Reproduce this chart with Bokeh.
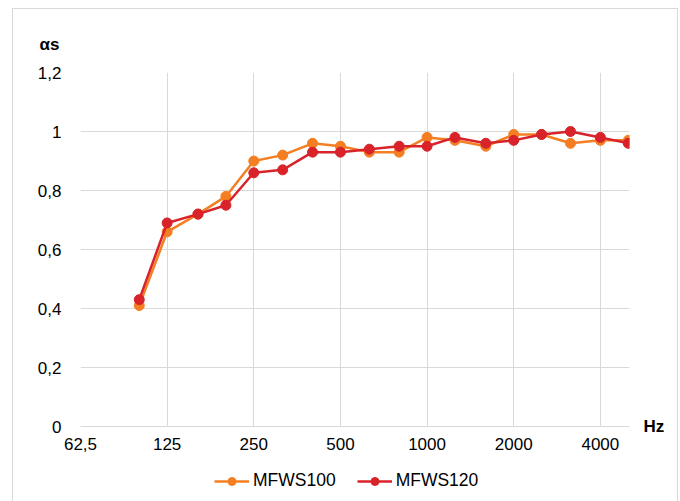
from bokeh.plotting import figure
from bokeh.layouts import column
from bokeh.models import FixedTicker, Legend, LegendItem, Title, Range1d, LinearAxis
from bokeh.embed import file_html
from bokeh.resources import INLINE

freqs = [100, 125, 160, 200, 250, 315, 400, 500, 630, 800, 1000, 1250, 1600, 2000, 2500, 3150, 4000, 5000]
mfws100 = [0.41, 0.66, 0.72, 0.78, 0.90, 0.92, 0.96, 0.95, 0.93, 0.93, 0.98, 0.97, 0.95, 0.99, 0.99, 0.96, 0.97, 0.97]
mfws120 = [0.43, 0.69, 0.72, 0.75, 0.86, 0.87, 0.93, 0.93, 0.94, 0.95, 0.95, 0.98, 0.96, 0.97, 0.99, 1.00, 0.98, 0.96]
x_ticks = [62.5, 125, 250, 500, 1000, 2000, 4000]
x_tick_labels = ["62,5", "125", "250", "500", "1000", "2000", "4000"]
y_ticks = [0, 0.2, 0.4, 0.6, 0.8, 1, 1.2]
y_tick_labels = ["0", "0,2", "0,4", "0,6", "0,8", "1", "1,2"]
y_title = "αs"
x_title = "Hz"
series_names = ["MFWS100", "MFWS120"]

ORANGE = "#F37F22"
RED = "#D8232A"
GRID = "#D9D9D9"
FONT = "Liberation Sans"
FS = "17px"

p = figure(width=664, height=451, x_axis_type="log",
           x_range=Range1d(62.5, 5050), y_range=Range1d(0, 1.2),
           output_backend="svg", toolbar_location=None,
           min_border_left=67, min_border_right=48, min_border_top=63, min_border_bottom=34)
p.outline_line_color = None
p.background_fill_color = "white"
p.border_fill_color = "white"

# axes
p.xaxis.ticker = FixedTicker(ticks=x_ticks)
p.xaxis.major_label_overrides = {t: l for t, l in zip(x_ticks, x_tick_labels)}
p.yaxis.ticker = FixedTicker(ticks=y_ticks)
p.yaxis.major_label_overrides = {t: l for t, l in zip(y_ticks, y_tick_labels)}
for ax in (p.xaxis[0], p.yaxis[0]):
    ax.major_tick_line_color = None
    ax.minor_tick_line_color = None
    ax.major_label_text_font = FONT
    ax.major_label_text_font_size = FS
    ax.major_label_text_color = "#000000"
p.xaxis.axis_line_color = GRID
p.yaxis.axis_line_color = None
p.yaxis.major_label_standoff = 13
p.xaxis.major_label_standoff = 5

# "Hz" unit label at the end of the x axis
hz_axis = LinearAxis(ticker=FixedTicker(ticks=[0]), major_label_overrides={0: x_title},
                     axis_line_color=None, major_tick_line_color=None, minor_tick_line_color=None,
                     major_label_text_font=FONT, major_label_text_font_size=FS,
                     major_label_text_font_style="bold", major_label_text_color="#000000",
                     major_label_standoff=8)
p.add_layout(hz_axis, "right")

# "αs" title at top-left
p.add_layout(Title(text=y_title, align="left", offset=-41, standoff=38,
                   text_font=FONT, text_font_size=FS, text_font_style="bold",
                   text_color="#000000"), "above")

p.xgrid.ticker = FixedTicker(ticks=x_ticks)
p.ygrid.ticker = FixedTicker(ticks=y_ticks)
for g in (p.xgrid[0], p.ygrid[0]):
    g.grid_line_color = GRID
    g.grid_line_width = 1

p.line(freqs, mfws100, line_color=ORANGE, line_width=2.5)
p.scatter(freqs, mfws100, size=10, fill_color=ORANGE, line_color=ORANGE)
p.line(freqs, mfws120, line_color=RED, line_width=2.5)
p.scatter(freqs, mfws120, size=10, fill_color=RED, line_color=RED)

# legend strip below the chart (same series, drawn out of view so only the legend shows)
lf = figure(width=664, height=42, x_range=Range1d(0, 1), y_range=Range1d(0, 1),
            output_backend="svg", toolbar_location=None,
            x_axis_location=None, y_axis_location=None, min_border=0)
lf.grid.visible = False
lf.outline_line_color = None
lf.border_fill_color = "white"
a1 = lf.line(freqs, mfws100, line_color=ORANGE, line_width=2.5)
b1 = lf.scatter(freqs, mfws100, size=10, fill_color=ORANGE, line_color=ORANGE)
a2 = lf.line(freqs, mfws120, line_color=RED, line_width=2.5)
b2 = lf.scatter(freqs, mfws120, size=10, fill_color=RED, line_color=RED)
legend = Legend(items=[LegendItem(label=series_names[0], renderers=[a1, b1]),
                       LegendItem(label=series_names[1], renderers=[a2, b2])],
                orientation="horizontal", location=(134, 11),
                label_text_font=FONT, label_text_font_size="17.5px",
                label_text_color="#000000",
                glyph_width=35, glyph_height=20, label_standoff=4, spacing=21,
                padding=0, margin=0, border_line_color=None, background_fill_alpha=0)
lf.add_layout(legend, "center")

layout = column(p, lf, spacing=0,
                styles={"border": "1px solid #D9D9D9", "margin-left": "12px", "margin-top": "8px"})

open("out.html", "w").write(file_html(layout, INLINE))
